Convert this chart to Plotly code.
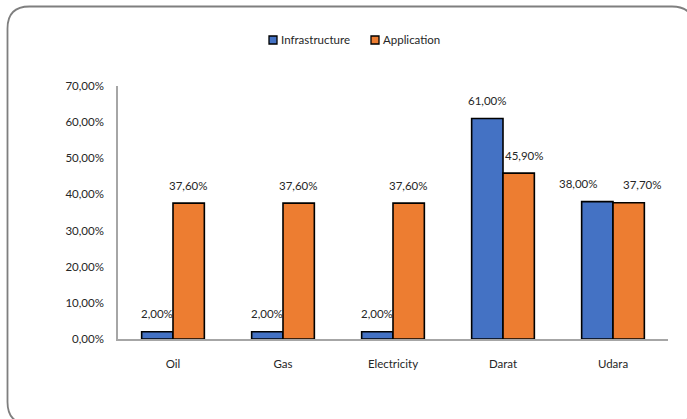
import plotly.graph_objects as go

categories = ["Oil", "Gas", "Electricity", "Darat", "Udara"]
infrastructure = [0.02, 0.02, 0.02, 0.61, 0.38]
application = [0.376, 0.376, 0.376, 0.459, 0.377]
y_ticks = [0.0, 0.1, 0.2, 0.3, 0.4, 0.5, 0.6, 0.7]
series_names = ["Infrastructure", "Application"]

BLUE = "#4472C4"
ORANGE = "#ED7D31"
TEXT = "#262626"
FONT = "Lato"
FS = 11.5

W, H = 687, 419
ML, MR, MT, MB = 118, 19, 86, 80
PW, PH = W - ML - MR, H - MT - MB
BARGAP = 0.43

fig = go.Figure()
for name, vals, col in zip(series_names, (infrastructure, application), (BLUE, ORANGE)):
    fig.add_trace(go.Bar(name=name, x=categories, y=vals, showlegend=False,
                         marker=dict(color=col, line=dict(color="black", width=1.6))))


def px_x(p):
    return (p - ML) / PW


def px_y(p):
    return (H - MB - p) / PH


# value labels above each bar (a few nudged sideways so neighbours don't collide)
cat_px = PW / len(categories)
bar_px = cat_px * (1 - BARGAP) / 2
nudge = {("Darat", 1): 6, ("Udara", 0): -19, ("Udara", 1): 14}
annotations = []
for si, (vals, sign) in enumerate(((infrastructure, -1), (application, 1))):
    for c, v in zip(categories, vals):
        annotations.append(dict(
            x=c, y=v, xref="x", yref="y", text=f"{v*100:.2f}%".replace(".", ","),
            showarrow=False, yanchor="middle", yshift=18,
            xshift=sign * bar_px / 2 + nudge.get((c, si), 0),
            font=dict(family=FONT, size=FS, color=TEXT)))

# legend drawn as small swatches with labels
shapes = []
legend_items = [(series_names[0], BLUE, 269), (series_names[1], ORANGE, 371)]
ly = 40
for name, col, sx in legend_items:
    shapes.append(dict(type="rect", xref="paper", yref="paper",
                       x0=px_x(sx), x1=px_x(sx + 8), y0=px_y(ly + 4), y1=px_y(ly - 4),
                       fillcolor=col, line=dict(color="black", width=1.3)))
    annotations.append(dict(x=px_x(sx + 9.5), y=px_y(ly), xref="paper", yref="paper",
                            text=name, showarrow=False, xanchor="left", yanchor="middle",
                            font=dict(family=FONT, size=FS, color=TEXT)))

# rounded outer frame (runs off the right and bottom edges)
x0, x1, y0, y1, r = 7.5, 694, 6.5, 424, 22
path = (f"M {px_x(x0 + r)},{px_y(y0)} L {px_x(x1 - r)},{px_y(y0)} "
        f"Q {px_x(x1)},{px_y(y0)} {px_x(x1)},{px_y(y0 + r)} "
        f"L {px_x(x1)},{px_y(y1 - r)} Q {px_x(x1)},{px_y(y1)} {px_x(x1 - r)},{px_y(y1)} "
        f"L {px_x(x0 + r)},{px_y(y1)} Q {px_x(x0)},{px_y(y1)} {px_x(x0)},{px_y(y1 - r)} "
        f"L {px_x(x0)},{px_y(y0 + r)} Q {px_x(x0)},{px_y(y0)} {px_x(x0 + r)},{px_y(y0)} Z")
shapes.append(dict(type="path", path=path, xref="paper", yref="paper",
                   line=dict(color="#7F7F7F", width=1.8), layer="above"))

fig.update_layout(
    width=W, height=H,
    margin=dict(l=ML, r=MR, t=MT, b=MB),
    paper_bgcolor="white", plot_bgcolor="white",
    barmode="group", bargap=BARGAP, bargroupgap=0,
    separators=",.",
    font=dict(family=FONT, size=FS, color=TEXT),
    showlegend=False,
    xaxis=dict(showline=True, linecolor="#A6A6A6", linewidth=1.5, ticks="",
               showgrid=False, tickfont=dict(family=FONT, size=FS, color=TEXT),
               ticklabelstandoff=13),
    yaxis=dict(range=[0, 0.7], tickvals=y_ticks, tickformat=".2%", showgrid=False,
               showline=True, linecolor="#A6A6A6", linewidth=1.5, ticks="",
               zeroline=False, tickfont=dict(family=FONT, size=FS, color=TEXT),
               ticklabelstandoff=10),
    annotations=annotations,
    shapes=shapes,
)

fig.write_html("out.html")
